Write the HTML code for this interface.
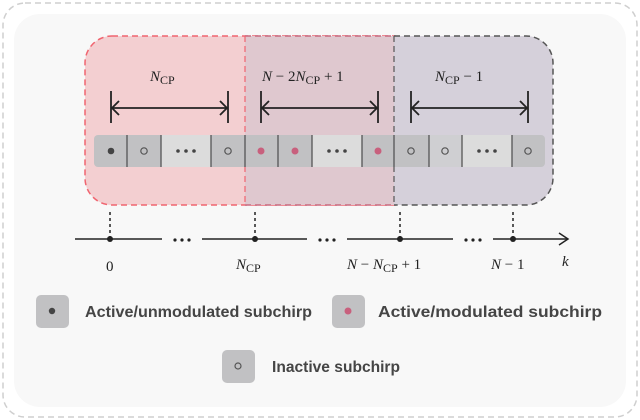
<!DOCTYPE html>
<html><head><style>
body{margin:0;background:#fff;}
svg{display:block}
.lg{font-family:"Liberation Sans",sans-serif;font-weight:bold;font-size:16px;fill:#454545}
.m{font-family:"Liberation Serif",serif;font-style:italic;font-size:15px;fill:#222}
.r{font-style:normal}
</style></head><body>
<svg width="640" height="420" viewBox="0 0 640 420">
<rect x="3" y="3" width="634" height="414" rx="22" fill="#fff" stroke="#cfcfcf" stroke-width="1.5" stroke-dasharray="6,4"/>
<rect x="14" y="14" width="612" height="393" rx="26" fill="#f8f8f8"/>
<path d="M112,36 H395 V205 H112 A27,27 0 0 1 85,178 V63 A27,27 0 0 1 112,36Z" fill="#f3cfd1" stroke="#f06570" stroke-width="1.5" stroke-dasharray="6,4"/>
<rect x="245" y="36" width="149" height="169" fill="#dfc8cf"/>
<path d="M394,36 H526 A27,27 0 0 1 553,63 V178 A27,27 0 0 1 526,205 H394" fill="#d5d0da" stroke="#555" stroke-width="1.5" stroke-dasharray="6,4"/>
<path d="M245,36 H394 M245,205 H394" stroke="#c86a80" stroke-width="1.5" stroke-dasharray="6,4"/>
<line x1="245" y1="36" x2="245" y2="205" stroke="#f06570" stroke-width="1.2" stroke-dasharray="6,4"/>
<line x1="394" y1="36" x2="394" y2="205" stroke="#555" stroke-width="1.2" stroke-dasharray="6,4"/>
<rect x="94" y="135" width="451" height="32" rx="4" fill="#c1c1c3"/>
<rect x="161" y="135" width="50" height="32" fill="#dcdcdc"/>
<rect x="312" y="135" width="50" height="32" fill="#dcdcdc"/>
<rect x="462" y="135" width="50" height="32" fill="#dcdcdc"/>
<rect x="429" y="135" width="33" height="32" fill="#cfcfd2"/>
<g stroke="#555" stroke-width="1.3">
<line x1="127" y1="135" x2="127" y2="167"/><line x1="161" y1="135" x2="161" y2="167"/><line x1="211" y1="135" x2="211" y2="167"/><line x1="245" y1="135" x2="245" y2="167"/><line x1="278" y1="135" x2="278" y2="167"/><line x1="312" y1="135" x2="312" y2="167"/><line x1="362" y1="135" x2="362" y2="167"/><line x1="394" y1="135" x2="394" y2="167"/><line x1="429" y1="135" x2="429" y2="167"/><line x1="462" y1="135" x2="462" y2="167"/><line x1="512" y1="135" x2="512" y2="167"/>
</g>
<circle cx="111" cy="151" r="3.3" fill="#444"/>
<g fill="none" stroke="#555" stroke-width="1.2">
<circle cx="144" cy="151" r="3.2"/><circle cx="228" cy="151" r="3.2"/><circle cx="411" cy="151" r="3.2"/><circle cx="445" cy="151" r="3.2"/><circle cx="528" cy="151" r="3.2"/>
</g>
<g fill="#c8607d"><circle cx="261" cy="151" r="3.5"/><circle cx="295" cy="151" r="3.5"/><circle cx="378" cy="151" r="3.5"/></g>
<g fill="#444">
<circle cx="178" cy="151" r="1.8"/><circle cx="186" cy="151" r="1.8"/><circle cx="194" cy="151" r="1.8"/>
<circle cx="329" cy="151" r="1.8"/><circle cx="337" cy="151" r="1.8"/><circle cx="345" cy="151" r="1.8"/>
<circle cx="479" cy="151" r="1.8"/><circle cx="487" cy="151" r="1.8"/><circle cx="495" cy="151" r="1.8"/>
</g>
<g stroke="#222" stroke-width="1.8" fill="none">
<line x1="111" y1="91" x2="111" y2="123"/><line x1="228" y1="91" x2="228" y2="123"/><line x1="111" y1="108" x2="228" y2="108"/>
<path d="M119,101 L112,108 L119,115 M220,101 L227,108 L220,115"/>
<line x1="261" y1="91" x2="261" y2="123"/><line x1="378" y1="91" x2="378" y2="123"/><line x1="261" y1="108" x2="378" y2="108"/>
<path d="M269,101 L262,108 L269,115 M370,101 L377,108 L370,115"/>
<line x1="411" y1="91" x2="411" y2="123"/><line x1="528" y1="91" x2="528" y2="123"/><line x1="411" y1="108" x2="528" y2="108"/>
<path d="M419,101 L412,108 L419,115 M520,101 L527,108 L520,115"/>
</g>
<text class="m" x="150" y="81">N<tspan class="r" font-size="12" dy="3">CP</tspan></text>
<text class="m" x="262" y="81">N <tspan class="r">− 2</tspan>N<tspan class="r" font-size="12" dy="3">CP</tspan><tspan class="r" dy="-3"> + 1</tspan></text>
<text class="m" x="435" y="81">N<tspan class="r" font-size="12" dy="3">CP</tspan><tspan class="r" dy="-3"> − 1</tspan></text>
<g stroke="#222" stroke-width="1.5" fill="none">
<line x1="75" y1="239" x2="162" y2="239"/><line x1="202" y1="239" x2="307" y2="239"/><line x1="347" y1="239" x2="453" y2="239"/><line x1="493" y1="239" x2="568" y2="239"/>
<path d="M559,233 L568,239 L559,245"/>
</g>
<g stroke="#222" stroke-width="1.5" stroke-dasharray="3,3">
<line x1="110" y1="212" x2="110" y2="237"/><line x1="255" y1="212" x2="255" y2="237"/><line x1="400" y1="212" x2="400" y2="237"/><line x1="513" y1="212" x2="513" y2="237"/>
</g>
<g fill="#222"><circle cx="110" cy="239" r="3"/><circle cx="255" cy="239" r="3"/><circle cx="400" cy="239" r="3"/><circle cx="513" cy="239" r="3"/>
<circle cx="175" cy="240" r="1.6"/><circle cx="182" cy="240" r="1.6"/><circle cx="189" cy="240" r="1.6"/>
<circle cx="320" cy="240" r="1.6"/><circle cx="327" cy="240" r="1.6"/><circle cx="334" cy="240" r="1.6"/>
<circle cx="466" cy="240" r="1.6"/><circle cx="473" cy="240" r="1.6"/><circle cx="480" cy="240" r="1.6"/></g>
<text class="m r" x="106" y="271" font-size="12" style="font-style:normal">0</text>
<text class="m" x="236" y="269">N<tspan class="r" font-size="12" dy="3">CP</tspan></text>
<text class="m" x="347" y="269">N <tspan class="r">−</tspan> N<tspan class="r" font-size="12" dy="3">CP</tspan><tspan class="r" dy="-3"> + 1</tspan></text>
<text class="m" x="491" y="269">N <tspan class="r">− 1</tspan></text>
<text class="m" x="562" y="266" font-size="12">k</text>
<rect x="36" y="295" width="33" height="33" rx="5" fill="#c1c1c3"/><circle cx="52" cy="311" r="3.2" fill="#444"/>
<text class="lg" x="85" y="317" textLength="227" lengthAdjust="spacingAndGlyphs">Active/unmodulated subchirp</text>
<rect x="332" y="295" width="33" height="33" rx="5" fill="#c1c1c3"/><circle cx="348" cy="311" r="3.5" fill="#c8607d"/>
<text class="lg" x="378" y="317" textLength="224" lengthAdjust="spacingAndGlyphs">Active/modulated subchirp</text>
<rect x="222" y="350" width="33" height="33" rx="5" fill="#c1c1c3"/><circle cx="238" cy="366" r="3" fill="none" stroke="#555" stroke-width="1.2"/>
<text class="lg" x="272" y="372" textLength="128" lengthAdjust="spacingAndGlyphs">Inactive subchirp</text>
</svg>
</body></html>
